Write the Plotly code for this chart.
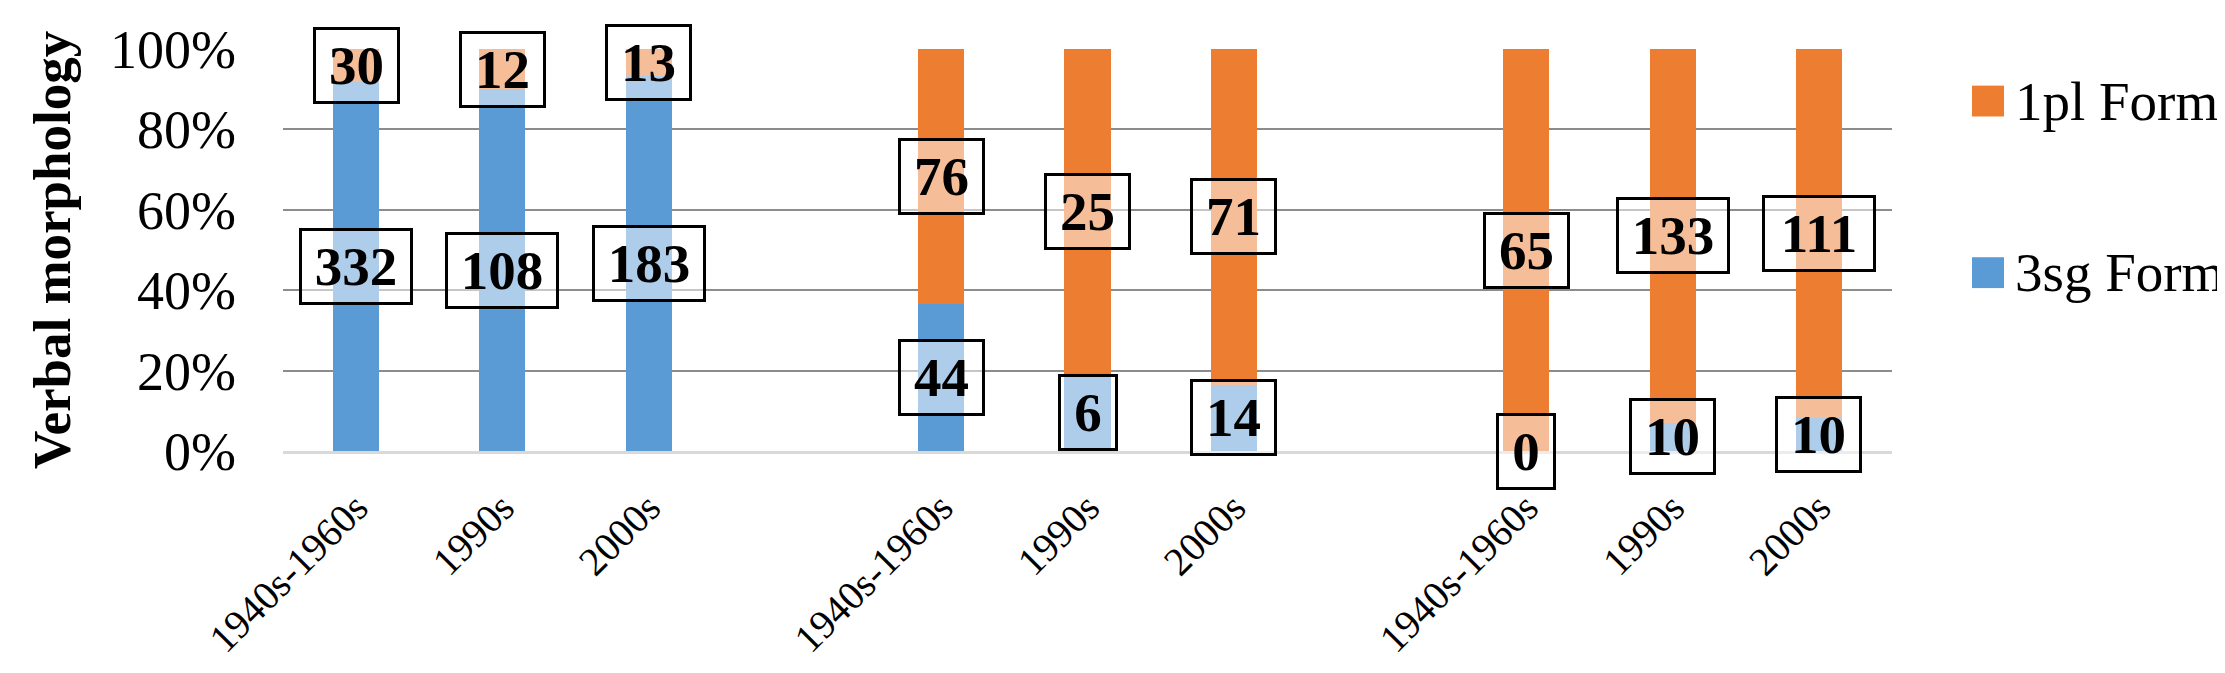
import plotly.graph_objects as go

# ---- data ----
periods = ["1940s-1960s", "1990s", "2000s"]
n_groups = 3
form_3sg = [332, 108, 183, 44, 6, 14, 0, 10, 10]
form_1pl = [30, 12, 13, 76, 25, 71, 65, 133, 111]
series_names = ["3sg Form", "1pl Form"]
y_ticks = [0, 20, 40, 60, 80, 100]
y_title = "Verbal morphology"

# ---- styling ----
OFF = 8  # default page body margin
W, H = 2225 - OFF, 673 - OFF
PLOT_L, PLOT_R, PLOT_T, PLOT_B = 283, 1892, 41, 458  # absolute page pixels
L, T = PLOT_L - OFF, PLOT_T - OFF
R = W - (PLOT_R - OFF)
B = H - (PLOT_B - OFF)
BLUE = "#5B9BD5"
ORANGE = "#ED7D31"
FONT = "Liberation Serif"

# slot positions: groups of 3 with an empty slot between groups
xpos = [g * (len(periods) + 1) + i for g in range(n_groups) for i in range(len(periods))]
xlabels = [periods[i] for g in range(n_groups) for i in range(len(periods))]

fig = go.Figure()
fig.add_trace(go.Bar(x=xpos, y=form_3sg, name=series_names[0], marker=dict(color=BLUE, line=dict(width=0)),
                     width=0.315))
fig.add_trace(go.Bar(x=xpos, y=form_1pl, name=series_names[1], marker=dict(color=ORANGE, line=dict(width=0)),
                     width=0.315))


def px_x(px):
    return (px - PLOT_L) / (PLOT_R - PLOT_L)


def px_y(py):
    return (PLOT_B - py) / (PLOT_B - PLOT_T)


annotations = []
shapes = []
# data labels (counts), centred on each segment
for x, a, b in zip(xpos, form_3sg, form_1pl):
    tot = a + b
    pa = 100.0 * a / tot
    for val, yc in ((a, pa / 2.0), (b, pa + (100.0 - pa) / 2.0)):
        txt = str(val)
        annotations.append(dict(
            x=x, y=yc, xref="x", yref="y", text="<b>%s</b>" % txt, showarrow=False,
            font=dict(family=FONT, size=55, color="black"),
            bgcolor="rgba(255,255,255,0.5)", bordercolor="black", borderwidth=3, borderpad=0,
            width=27 * len(txt) + 27, height=71, xanchor="center", yanchor="middle", valign="middle"))

# y axis title
annotations.append(dict(x=px_x(52), y=0.5, xref="paper", yref="paper", text="<b>%s</b>" % y_title,
                        textangle=-90, showarrow=False, xanchor="center", yanchor="middle",
                        font=dict(family=FONT, size=53, color="black")))

# manual legend
legend_items = [(series_names[1], ORANGE, 95), (series_names[0], BLUE, 273)]
for name, col, cy in legend_items:
    shapes.append(dict(type="rect", xref="paper", yref="paper",
                       x0=px_x(1972), x1=px_x(2004), y0=px_y(cy + 16), y1=px_y(cy - 16),
                       fillcolor=col, line=dict(width=0)))
    annotations.append(dict(x=px_x(2013), y=px_y(cy), xref="paper", yref="paper", text=name,
                            showarrow=False, xanchor="left", yanchor="middle",
                            font=dict(family=FONT, size=55, color="black")))

fig.update_layout(
    width=W, height=H, barmode="stack", barnorm="percent", showlegend=False,
    margin=dict(l=L, r=R, t=T, b=B, pad=0),
    paper_bgcolor="white", plot_bgcolor="white",
    annotations=annotations, shapes=shapes,
    xaxis=dict(range=[-0.5, max(xpos) + 0.5], tickmode="array", tickvals=xpos, ticktext=xlabels,
               tickangle=-45, tickfont=dict(family=FONT, size=40, color="black"),
               showgrid=False, zeroline=False, showline=True, linecolor="#D9D9D9", linewidth=3,
               ticks="", ticklabelstandoff=14),
    yaxis=dict(range=[0, 100], tickmode="array", tickvals=y_ticks, ticktext=["%d%%" % v for v in y_ticks],
               tickfont=dict(family=FONT, size=54, color="black"),
               showgrid=True, gridcolor="#8C8C8C", gridwidth=2, zeroline=False, showline=False,
               ticks="", ticklabelstandoff=46),
)

fig.write_html("out.html")
